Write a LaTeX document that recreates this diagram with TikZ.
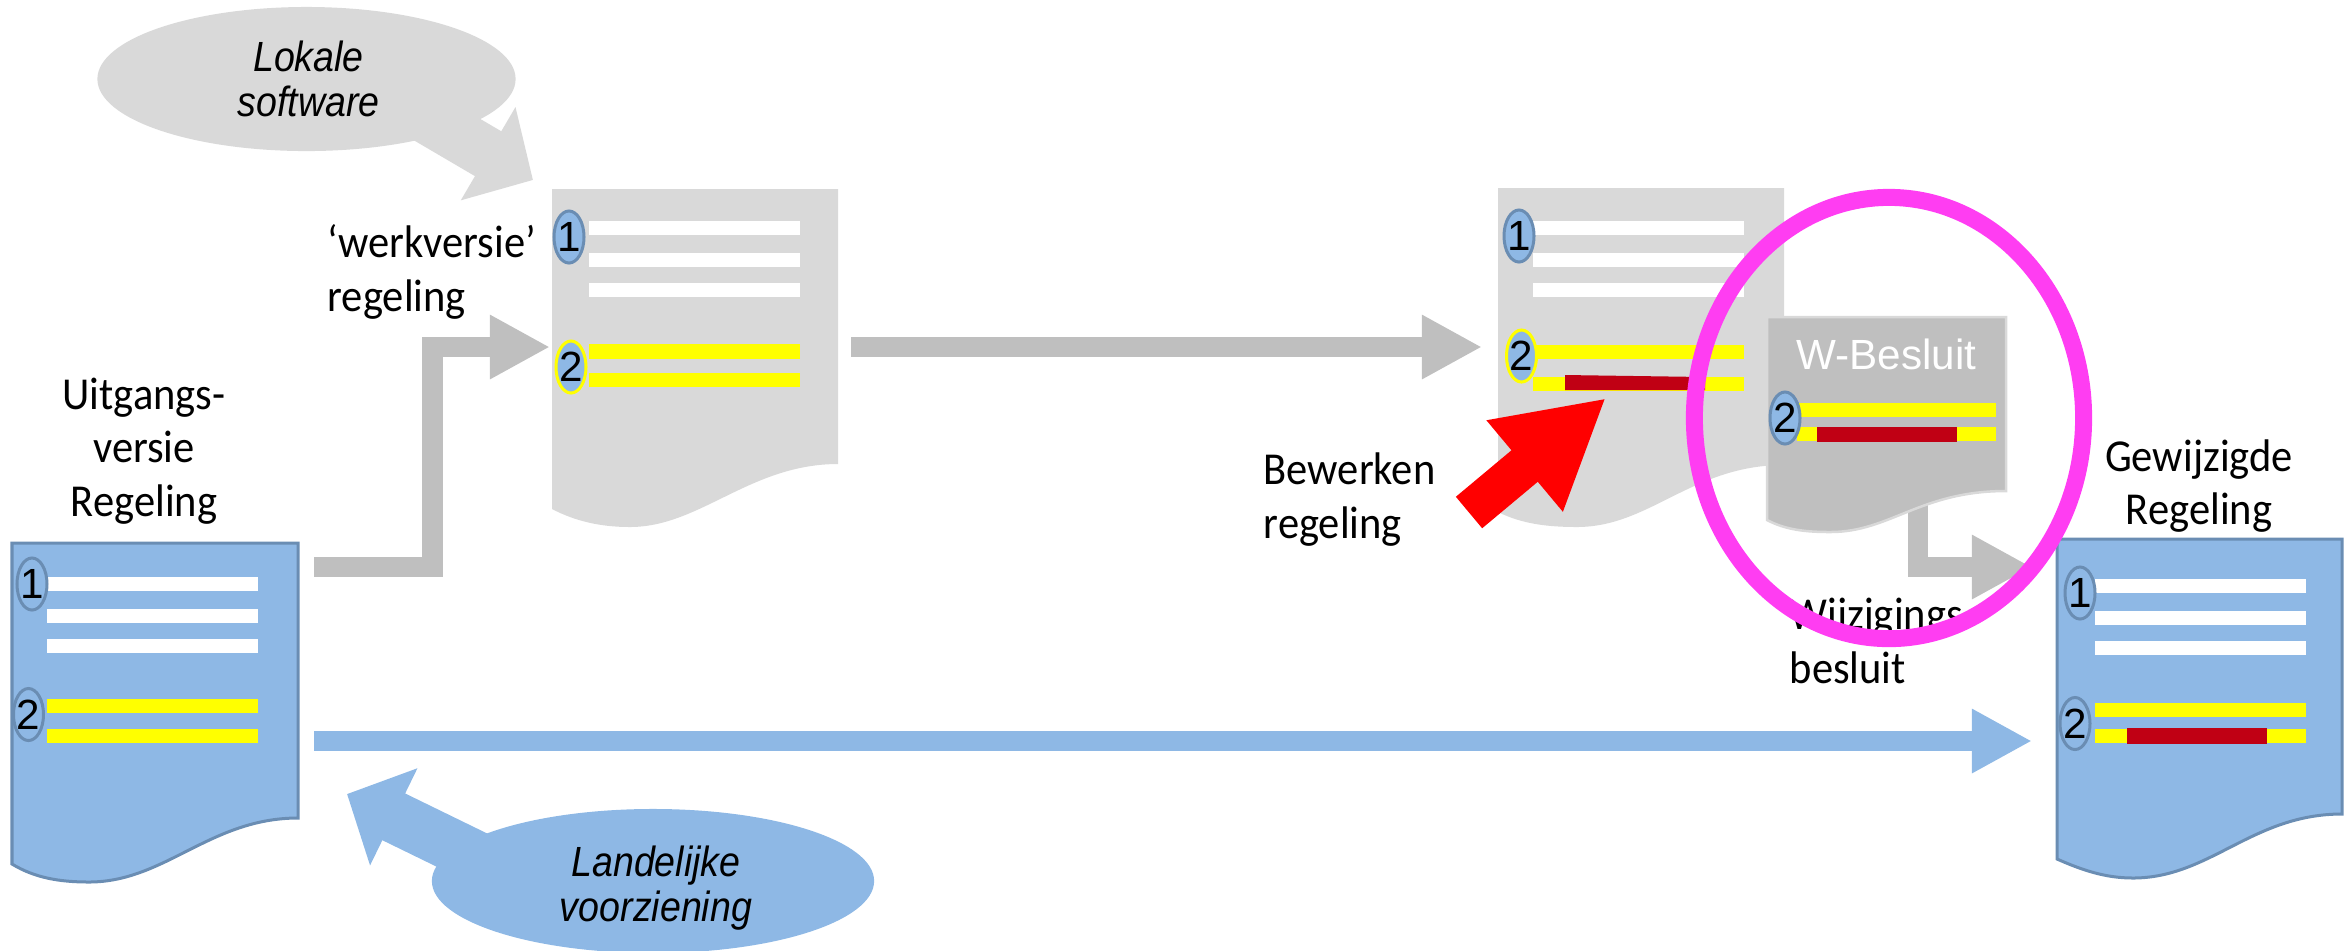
\documentclass[tikz,border=0pt]{standalone}
\usepackage{fontspec}
\setmainfont{Carlito}
\newfontfamily\labelfont[FakeStretch=0.93]{Carlito}
\newfontfamily\arialfont{Liberation Sans}
\newfontfamily\calloutfont[FakeStretch=0.89]{Liberation Sans}
\usetikzlibrary{arrows.meta}
\usetikzlibrary{shapes.geometric}
\definecolor{docblue}{HTML}{8EB8E5}
\definecolor{docedge}{HTML}{6A8DB3}
\definecolor{docgrey}{HTML}{D9D9D9}
\definecolor{arrowgrey}{HTML}{BFBFBF}
\definecolor{baryellow}{HTML}{FFFF00}
\definecolor{markred}{HTML}{C00014}
\definecolor{arrowred}{HTML}{FF0000}
\definecolor{ringpink}{HTML}{FF3DF2}

\begin{document}
\begin{tikzpicture}[
	x=0.01cm, y=-0.01cm,
	txt/.style = {inner sep=0pt, font=\labelfont\fontsize{13}{15.2}\selectfont},
	callout/.style = {ellipse, inner sep=0pt},
	callouttxt/.style = {inner sep=0pt, align=center, font=\calloutfont\itshape\fontsize{12}{13}\selectfont},
	numoval/.style = {ellipse, draw=docedge, line width=0.3mm, fill=docblue, inner sep=0pt, minimum width=0.30cm, minimum height=0.52cm, label={[inner sep=0pt, font=\arialfont\fontsize{12}{14}\selectfont]center:#1}},
	numyellow/.style = {numoval=#1, draw=baryellow},
	whitebar/.style = {fill=white},
	yellowbar/.style = {fill=baryellow},
	redbar/.style = {fill=markred},
	arrowbody/.style = {line width=0.2cm, -{Triangle[width=0.6cm,length=0.6cm]}}
	]
	\useasboundingbox (0,0) rectangle (2351,950);

	% werkversie
	\fill[docgrey] (552,189) -- (838,189) -- (838,464) .. controls (750,464) and (700,527) .. (630,527) .. controls (600,527) and (575,521) .. (552,509) -- cycle;
	\fill[whitebar] (589,221) rectangle (800,235);
	\fill[whitebar] (589,253) rectangle (800,267);
	\fill[whitebar] (589,283) rectangle (800,297);
	\fill[yellowbar] (589,344) rectangle (800,359);
	\fill[yellowbar] (589,373) rectangle (800,387);
	\node[numoval=1] (werk1) at (569,237) {};
	\node[numyellow=2] (werk2) at (571,367) {};

	% bewerkte versie
	\fill[docgrey] (1498,188) -- (1784,188) -- (1784,465) .. controls (1692,465) and (1650,527) .. (1577,527) .. controls (1548,527) and (1522,524) .. (1498,512) -- cycle;
	\fill[whitebar] (1533,221) rectangle (1744,235);
	\fill[whitebar] (1533,253) rectangle (1744,267);
	\fill[whitebar] (1533,283) rectangle (1744,297);
	\fill[yellowbar] (1533,345) rectangle (1744,359);
	\fill[yellowbar] (1533,377) rectangle (1744,391);
	\fill[redbar] (1565,375) -- (1705,377) -- (1705,390) -- (1565,390) -- cycle;
	\node[numoval=1] (bew1) at (1519,236) {};
	\node[numyellow=2] (bew2) at (1521.5,356) {};

	% uitgangsversie
	\filldraw[fill=docblue, draw=docedge, line width=0.3mm] (12,543) -- (298,543) -- (298,818) .. controls (210,818) and (165,882) .. (89,882) .. controls (60,882) and (35,878) .. (12,864) -- cycle;
	\fill[whitebar] (47,577) rectangle (258,591);
	\fill[whitebar] (47,609) rectangle (258,623);
	\fill[whitebar] (47,639) rectangle (258,653);
	\fill[yellowbar] (47,699) rectangle (258,713);
	\fill[yellowbar] (47,729) rectangle (258,743);
	\node[numoval=1] (uit1) at (32,584) {};
	\node[numoval=2] (uit2) at (28.5,714.5) {};

	% gewijzigde regeling
	\filldraw[fill=docblue, draw=docedge, line width=0.3mm] (2057,539) -- (2342,539) -- (2342,814) .. controls (2252,814) and (2210,878) .. (2133,878) .. controls (2105,878) and (2082,870) .. (2057,859) -- cycle;
	\fill[whitebar] (2095,579) rectangle (2306,593);
	\fill[whitebar] (2095,611) rectangle (2306,625);
	\fill[whitebar] (2095,641) rectangle (2306,655);
	\fill[yellowbar] (2095,703) rectangle (2306,717);
	\fill[yellowbar] (2095,729) rectangle (2306,743);
	\fill[redbar] (2127,728) rectangle (2267,744);
	\node[numoval=1] (gew1) at (2080,593) {};
	\node[numoval=2] (gew2) at (2075,723.5) {};

	% pijlen
	\coordinate (@a1) at (314,567);
	\coordinate (@a2) at (432.5,567);
	\coordinate (@a3) at (432.5,347);
	\coordinate (@a4) at (550,347);
	\coordinate (@b1) at (851,347);
	\coordinate (@b2) at (1482,347);
	\coordinate (@c1) at (314,741);
	\coordinate (@c2) at (2032,741);
	\coordinate (@d1) at (1918,480);
	\coordinate (@d2) at (1918,567);
	\coordinate (@d3) at (2032,567);
	\coordinate (@e1) at (1469,512.5);
	\coordinate (@e2) at (1606,398);
	\coordinate (@f1) at (400,102);
	\coordinate (@f2) at (533,180);
	\coordinate (@g1) at (511,874);
	\coordinate (@g2) at (347,794);

	\draw[arrowbody, arrowgrey] (@a1) -- (@a2) -- (@a3) -- (@a4);
	\draw[arrowbody, arrowgrey] (@b1) -- (@b2);
	\draw[arrowbody, docblue] (@c1) -- (@c2);
	\draw[arrowbody, arrowgrey] (@d1) -- (@d2) -- (@d3);
	\draw[arrowred, line width=0.41cm, -{Triangle[width=1.11cm,length=1.06cm]}] (@e1) -- (@e2);
	\draw[docgrey, line width=0.52cm, -{Triangle[width=1.05cm,length=0.52cm]}] (@f1) -- (@f2);
	\draw[docblue, line width=0.52cm, -{Triangle[width=1.05cm,length=0.52cm]}] (@g1) -- (@g2);

	% W-besluit
	\filldraw[fill=arrowgrey, draw=docgrey, line width=0.25mm] (1767,317) -- (2006,317) -- (2006,491) .. controls (1920,491) and (1890,532) .. (1830.5,532) .. controls (1806,532) and (1786,530) .. (1767,520) -- cycle;
	\node[inner sep=0pt, anchor=base, text=white, font=\arialfont\fontsize{12}{14}\selectfont] (wtitle) at (1886.5,369) {W-Besluit};
	\fill[yellowbar] (1797,403) rectangle (1996,417);
	\fill[yellowbar] (1797,427) rectangle (1996,441);
	\fill[redbar] (1817,427) rectangle (1957,441.5);
	\node[numoval=2] (wbes2) at (1785,418) {};

	% wolken
	\node[callout, fill=docgrey, minimum width=4.18cm, minimum height=1.44cm] (lokale) at (306.5,79) {};
	\node[callouttxt] (lokaletxt) at (308.5,79) {Lokale\\software};
	\node[callout, fill=docblue, minimum width=4.42cm, minimum height=1.44cm] (landelijk) at (653,881) {};
	\node[callouttxt] (landelijktxt) at (656,888) {Landelijke\\voorziening};

	% teksten
	\node[txt, align=center] (uitgang) at (144,451) {Uitgangs-\\versie\\Regeling};
	\node[txt, align=left, anchor=west] (werkv) at (327,272) {‘werkversie’\\regeling};
	\node[txt, align=left, anchor=west] (bewerk) at (1263,499.5) {Bewerken\\regeling};
	\node[txt, align=center] (gewijzigd) at (2199,486) {Gewijzigde\\Regeling};
	\node[txt, align=left, anchor=west] (wijz) at (1789,641) {Wijzigings-\\besluit};

	\node[ellipse, draw=ringpink, line width=0.17cm, inner sep=0pt, minimum width=3.89cm, minimum height=4.41cm] (ring) at (1889,418) {};
\end{tikzpicture}
\end{document}
